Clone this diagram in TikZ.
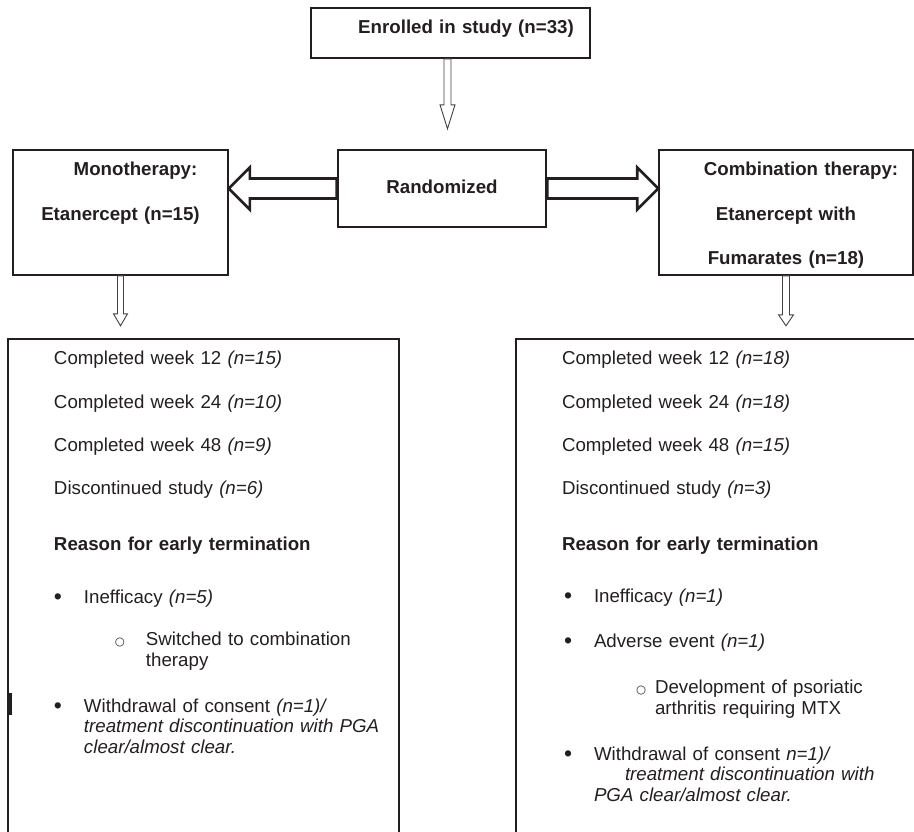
\documentclass[tikz,border=0pt]{standalone}
\usepackage{fontspec}
\setmainfont{Liberation Sans}
\newfontfamily\symfont{DejaVu Sans}
\usepackage{tikz}
\usetikzlibrary{calc}
\usetikzlibrary{positioning}
\definecolor{ink}{RGB}{35,31,32}
\tikzstyle{hollowarrow}= [draw=ink!85, line width=0.9pt, fill=white, line join=miter]
\tikzstyle{fatarrow}= [draw=ink, line width=2.6pt, fill=white, line join=miter]
\newcommand{\mainbul}{\raisebox{-0.8pt}{\fontsize{23}{20}\selectfont\textbullet}}
\newcommand{\subbul}{\raisebox{0.3pt}{\symfont\fontsize{11.5}{10}\selectfont ○}}

% block arrow: style, foot, tip, half shaft, half head, head length
\newcommand{\blockarrow}[6]{
  \coordinate (hb) at ($(#3)!#6!(#2)$);
  \draw[#1] ($(#2)!#4!90:(#3)$) -- ($(hb)!#4!90:(#3)$) -- ($(hb)!#5!90:(#3)$) -- (#3)
    -- ($(hb)!#5!-90:(#3)$) -- ($(hb)!#4!-90:(#3)$) -- ($(#2)!#4!-90:(#3)$) -- cycle;
}

\begin{document}
\begin{tikzpicture}[
		scale=1, x=1pt, y=-1pt,
    box/.style={
    draw=ink, line width=1.6pt, inner sep=0pt, align=center, text=ink,
    font=\bfseries\fontsize{18.7}{44.5}\selectfont, text height=25.7pt,
    },
    listbox/.style={
    draw=ink, line width=2pt, inner sep=0pt, align=left, text=ink, anchor=north west,
    font=\fontsize{18.7}{20.5}\selectfont, text height=25.7pt, text depth=520pt,
    }
	]
  \useasboundingbox (0,0) rectangle (914,831);
  \clip (0,0) rectangle (914,831);

  \node[box,text width=279pt,text depth=24.3pt] (enrol) at (450.5,33) {\hspace*{31pt}Enrolled in study (n=33)};
  \node[box,line width=2.6pt,text width=208pt,text height=43.7pt,text depth=33.3pt] (rand) at (442,188.5) {Randomized};
  \node[box,text width=215pt,text depth=99.3pt] (mono) at (120.5,212.5) {\hspace*{30pt}Monotherapy:\\Etanercept (n=15)};
  \node[box,text width=254pt,text depth=99.3pt] (combo) at (786,212.5) {\hspace*{30pt}Combination therapy:\\Etanercept with\\Fumarates (n=18)};

  \node[listbox,text width=391pt] (monolist) at (7,338) {\leftskip=46pt
    Completed week 12 \textit{(n=15)}\\[23.5pt]
    Completed week 24 \textit{(n=10)}\\[22.5pt]
    Completed week 48 \textit{(n=9)}\\[22.5pt]
    Discontinued study \textit{(n=6)}\\[35.5pt]
    \textbf{Reason for early termination}\\[32.5pt]
    \makebox[30pt][l]{\mainbul}Inefficacy \textit{(n=5)}\\[21.5pt]
    \hspace*{61pt}\makebox[31pt][l]{\subbul}Switched to combination\\
    \hspace*{92pt}therapy\\[25.5pt]
    \makebox[30pt][l]{\mainbul}Withdrawal of consent \textit{(n=1)/}\\
    \hspace*{30pt}\textit{treatment discontinuation with PGA}\\
    \hspace*{30pt}\textit{clear/almost clear.}\par};
  \node[listbox,text width=420pt] (combolist) at (515,338) {\leftskip=46pt
    Completed week 12 \textit{(n=18)}\\[23.5pt]
    Completed week 24 \textit{(n=18)}\\[22.5pt]
    Completed week 48 \textit{(n=15)}\\[22.5pt]
    Discontinued study \textit{(n=3)}\\[35.5pt]
    \textbf{Reason for early termination}\\[31.5pt]
    \makebox[32pt][l]{\hspace{2pt}\mainbul}Inefficacy \textit{(n=1)}\\[24.5pt]
    \makebox[32pt][l]{\hspace{2pt}\mainbul}Adverse event \textit{(n=1)}\\[25.5pt]
    \hspace*{74pt}\makebox[19pt][l]{\subbul}Development of psoriatic\\
    \hspace*{93pt}arthritis requiring MTX\\[25.5pt]
    \makebox[32pt][l]{\hspace{2pt}\mainbul}Withdrawal of consent \textit{n=1)/}\\
    \hspace*{63pt}\textit{treatment discontinuation with}\\
    \hspace*{32pt}\textit{PGA clear/almost clear.}\par};

  \coordinate (enrolfoot) at ([xshift=-3pt]enrol.south);
  \coordinate (enroltip) at ($(enrolfoot)+(0,70)$);
  \coordinate (randleft) at (mono.east |- rand.west);
  \coordinate (randright) at (combo.west |- rand.east);
  \coordinate (monotip) at ($(mono.south)+(0,50)$);
  \coordinate (combotip) at ($(combo.south)+(0,50)$);

  \blockarrow{hollowarrow}{enrolfoot}{enroltip}{3.5pt}{7.5pt}{24pt}
  \blockarrow{fatarrow}{rand.west}{randleft}{10pt}{21pt}{21pt}
  \blockarrow{fatarrow}{rand.east}{randright}{10pt}{21pt}{21pt}
  \blockarrow{hollowarrow}{mono.south}{monotip}{3pt}{7pt}{12pt}
  \blockarrow{hollowarrow}{combo.south}{combotip}{3.5pt}{7.5pt}{11pt}

  \draw[ink,line width=3.5pt] ($(monolist.north west)+(3,355)$) -- ++(0,22);
\end{tikzpicture}
\end{document}
